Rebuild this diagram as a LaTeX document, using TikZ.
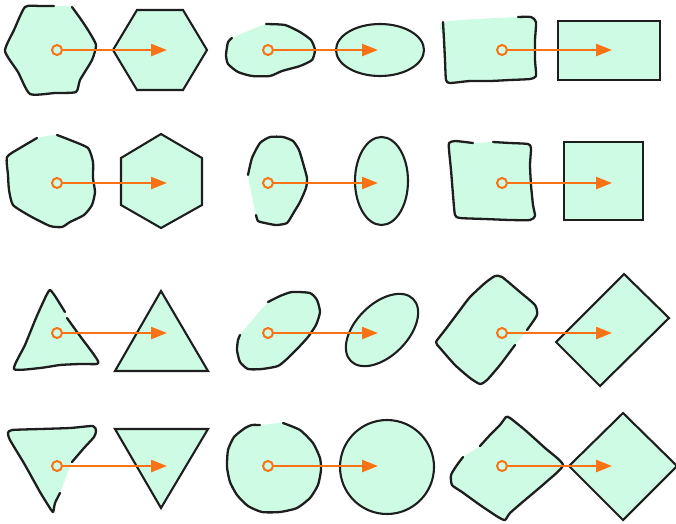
\documentclass[tikz,border=0pt]{standalone}
\usetikzlibrary{arrows.meta}
\definecolor{mint}{RGB}{206,251,228}
\definecolor{ink}{RGB}{30,30,30}
\definecolor{orng}{RGB}{249,115,22}
\tikzset{
 handfill/.style={fill=mint},
 handline/.style={draw=ink, line width=2.3pt, line cap=round, line join=round},
 clean/.style={fill=mint, draw=ink, line width=2.1pt, line join=miter},
 dot/.style={circle, draw=orng, line width=2pt, inner sep=0pt, minimum size=10pt},
 arr/.style={draw=orng, line width=2.4pt, -{Triangle[length=16pt,width=12pt]}},
}
\newcommand\myhand[1]{%
 \fill[handfill] plot[smooth cycle,tension=0.35] coordinates {#1};
 \draw[handline] plot[smooth,tension=0.35] coordinates {#1};}
\begin{document}
\begin{tikzpicture}[x=1pt,y=-1pt]
\useasboundingbox (0,0) rectangle (676,523);
% ---------- row 1 ----------
\myhand{(72,7) (80,18) (88,30) (96,45) (92,60) (80,80) (76,92) (55,93) (30,94) (18,72) (5,51) (14,30) (25,7) (40,6) (54,6)}
\draw[clean] (113,50) -- (137,10) -- (183,10) -- (207,50) -- (183,90) -- (137,90) -- cycle;
\myhand{(266,24) (285,25) (300,32) (311,40) (315,50) (312,60) (300,66) (282,71) (270,76) (252,76) (238,72) (228,64) (226,55) (228,42) (232,38)}
\draw[clean] (380,50) ellipse [x radius=44pt, y radius=26pt];
\myhand{(518,17) (531,17) (536,22) (535,40) (535,60) (536,76) (530,79) (510,80) (490,81) (470,81) (450,83) (446,80) (445,60) (444,40) (443,22)}
\draw[clean] (558,21) rectangle (660,80);
% ---------- row 2 ----------
\myhand{(57,135) (70,140) (88,148) (93,162) (93,178) (95,192) (92,205) (84,215) (70,222) (62,227) (50,226) (30,216) (13,205) (9,190) (8,175) (7,157) (20,148) (37,138)}
\draw[clean] (161,134) -- (202,158) -- (202,205) -- (161,228) -- (121,205) -- (121,158) -- cycle;
\myhand{(256,215) (258,221) (265,223) (276,225) (287,223) (294,212) (300,202) (306,188) (307,178) (303,163) (299,150) (293,141) (283,137) (270,137) (260,143) (252,158) (248,175)}
\draw[clean] (381.5,181) ellipse [x radius=26.5pt, y radius=44pt];
\myhand{(493,142) (510,143) (528,144) (531,148) (530,165) (531,185) (533,205) (535,216) (530,220) (510,220) (485,219) (460,218) (455,215) (453,195) (451,170) (449,150) (449,143) (455,141) (473,143)}
\draw[clean] (564,142) rectangle (643,220);
% ---------- row 3 ----------
\myhand{(67,318) (80,336) (92,352) (98,361) (97,364) (80,364) (60,365) (40,368) (14,369) (25,345) (36,318) (46,296) (50,290) (55,296) (65,312)}
\draw[clean] (161,291) -- (208,371) -- (115,371) -- cycle;
\myhand{(268,302) (280,296) (292,292) (310,293) (317,300) (320,312) (316,325) (308,337) (298,348) (288,358) (278,366) (262,369) (248,369) (240,362) (237,350) (238,340) (240,335)}
\draw[clean, rotate around={45:(382,330)}] (382,330) ellipse [x radius=44pt, y radius=26pt];
\myhand{(515,345) (500,365) (487,380) (480,384) (470,378) (455,365) (440,348) (436,342) (445,330) (460,310) (470,297) (485,283) (495,276) (502,277) (520,292) (535,305) (537,315) (527,330)}
\draw[clean] (624,274) -- (669,318) -- (600,386) -- (556,342) -- cycle;
% ---------- row 4 ----------
\myhand{(60,493) (55,503) (53,512) (48,505) (40,492) (25,465) (10,440) (8,433) (12,430) (40,429) (70,428) (93,426) (96,431) (94,437) (84,448) (72,462)}
\draw[clean] (115,429) -- (208,429) -- (161,508) -- cycle;
\myhand{(283,423) (300,430) (313,443) (320,458) (321,470) (318,485) (310,498) (297,508) (280,512) (262,512) (248,506) (237,495) (230,482) (227,467) (228,450) (234,437) (245,428) (252,425) (260,425)}
\draw[clean] (387,467) circle [radius=47pt];
\myhand{(480,446) (490,435) (500,425) (506,417) (510,418) (525,430) (545,448) (563,465) (545,483) (525,500) (510,513) (505,520) (498,517) (480,505) (462,492) (452,485) (451,475) (457,465) (463,457)}
\draw[clean] (623,413) -- (677,466) -- (623,520) -- (569,466) -- cycle;
% ---------- arrows ----------
\foreach \r/\yy in {1/50,2/183,3/333,4/466}{
 \node[dot] (sa\r) at (57,\yy) {};
 \coordinate (ta\r) at (167,\yy);
 \node[dot] (sb\r) at (268,\yy) {};
 \coordinate (tb\r) at (378,\yy);
 \node[dot] (sc\r) at (502,\yy) {};
 \coordinate (tc\r) at (612,\yy);
 \draw[arr] (sa\r) -- (ta\r);
 \draw[arr] (sb\r) -- (tb\r);
 \draw[arr] (sc\r) -- (tc\r);
}
\end{tikzpicture}
\end{document}
